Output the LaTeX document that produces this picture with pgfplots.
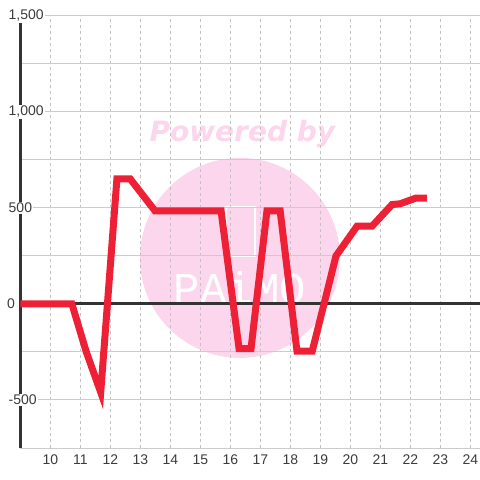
\documentclass[border=0pt]{standalone}
\usepackage{fontspec}
\setmainfont{Liberation Sans}
\newfontfamily\wmfont{DejaVu Sans}
\newfontfamily\logofont{Liberation Mono}
\usepackage{pgfplots}
\pgfplotsset{compat=1.18}
\definecolor{linered}{RGB}{238,32,54}
\definecolor{wmpink}{RGB}{252,214,236}
\definecolor{axdark}{RGB}{51,51,51}
\definecolor{gridgray}{RGB}{204,204,204}
\definecolor{txt}{RGB}{60,60,60}
\begin{document}
\begin{tikzpicture}
\begin{axis}[
  set layers,
  scale only axis,
  width=460bp, height=432bp,
  xmin=9, xmax=24.33,
  ymin=-750, ymax=1500,
  axis line style={draw=none},
  tick style={draw=none},
  xtick={10,...,24},
  ytick={-500,500,1000,1500},
  minor ytick={-750,-250,250,750,1250},
  xmajorgrids, ymajorgrids, yminorgrids,
  major x grid style={gridgray!95!black, line width=1bp, dash pattern=on 3bp off 3bp},
  major y grid style={gridgray, line width=1bp},
  minor y grid style={gridgray, line width=1bp},
  extra y ticks={0},
  extra y tick style={major y grid style={axdark, line width=3bp},
    yticklabel style={xshift=-1.5bp}},
  extra x ticks={9},
  extra x tick labels={},
  extra x tick style={major x grid style={axdark, line width=3bp, solid}},
  ticklabel style={font=\fontsize{14bp}{16bp}\selectfont, text=txt},
  /pgf/number format/assume math mode=true,
  /pgf/number format/1000 sep={,},
  yticklabel style={anchor=west, xshift=-12.8bp, fill=white, inner sep=1bp},
  xticklabel style={yshift=-3bp},
]
\begin{pgfonlayer}{axis background}
  \fill[wmpink] (axis cs:16.32,240) circle[radius=100bp];
  \node[text=wmpink, font=\wmfont\bfseries\itshape\fontsize{28bp}{30bp}\selectfont]
    at (axis cs:16.40,885) {Powered by};
  \draw[white, line width=1.5bp] (axis cs:15.86,505) rectangle (axis cs:16.82,250);
  \node[text=white, font=\logofont\fontsize{44bp}{46bp}\selectfont]
    at (axis cs:16.32,83) {PAiMO};
\end{pgfonlayer}
\addplot[linered, line width=7bp, line join=miter, line cap=butt] coordinates {
  (9,0) (10.72,0) (11.2,-250) (11.68,-460) (12.22,652) (12.66,652)
  (13.49,485) (15.69,485) (16.29,-232) (16.69,-232) (17.22,485) (17.66,485)
  (18.22,-245) (18.73,-245) (19.52,250) (20.22,405) (20.72,405)
  (21.39,518) (21.66,522) (22.19,552) (22.55,552)
};
\end{axis}
\pgfresetboundingbox
\path (-20.3bp,-32bp) rectangle (459.7bp,448bp);
\end{tikzpicture}
\end{document}
